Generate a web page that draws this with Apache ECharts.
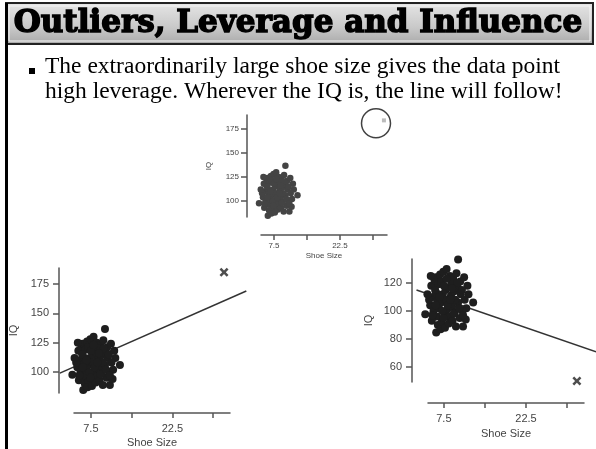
<!DOCTYPE html>
<html>
<head>
<meta charset="utf-8">
<script src="https://cdn.jsdelivr.net/npm/echarts@6/dist/echarts.min.js"></script>
<style>
  html, body { margin: 0; padding: 0; background: #fff; }
  #chart { width: 596px; height: 449px; }
</style>
</head>
<body>
<div id="chart"></div>
<script>
// shoe size / IQ cluster (same sample in all three panels)
const shoeSize = [4.1, 6.1, 11.0, 10.1, 12.85, 5.0, 5.5, 5.2, 5.8, 6.0, 6.5, 6.8, 7.0, 7.4, 8.0, 8.6, 9.2, 9.8,
  10.5, 11.2, 11.8, 12.0, 4.8, 5.6, 6.2, 6.6, 7.0, 7.3, 7.8, 8.3, 8.8, 9.4, 10.0, 10.6, 11.3, 11.6,
  5.3, 6.4, 7.1, 7.6, 8.1, 8.5, 9.0, 9.5, 10.1, 10.4, 10.9, 11.5, 6.9, 7.7, 8.4, 9.1, 9.7, 6.1,
  7.9, 8.9, 9.6, 6.3, 7.2, 8.2, 5.9, 9.3, 10.3, 7.5,
  4.5, 5.4, 6.7, 8.7, 9.9, 10.8, 7.4, 8.0, 6.0, 9.0, 11.0, 5.1]
const iq = [97.7, 84.7, 89.0, 136.7, 106, 104, 110, 118, 122, 124, 119, 126, 121, 128, 130, 125, 123, 127,
  121, 124, 118, 112, 108, 100, 96, 102, 106, 112, 115, 117, 111, 114, 117, 112, 108, 102,
  93, 90, 92, 98, 101, 96, 103, 99, 106, 95, 100, 94, 87, 88, 91, 93, 89, 113,
  108, 120, 108, 107, 100, 104, 115, 98, 102, 118,
  112, 97, 110, 108, 120, 115, 95, 123, 104, 116, 97, 125]

// the extra point and the fitted lines
const topOutlier = [32.5, 184]
const circledPoint = [30.7, 181]
const leftOutlier = [32, 185]
const rightOutlier = [31.8, 50]
const leftFit = [[1.8, 99], [36.1, 169]]
const rightFit = [[2.6, 115], [37.5, 70.8]]

// tick labels
const xTicks = [7.5, 15, 22.5, 30]
const xLabels = [7.5, 22.5]
const iqTicks = [100, 125, 150, 175]
const iqTicksRight = [60, 80, 100, 120]

const points = shoeSize.map((s, i) => [s, iq[i]])
const axisColor = '#555'
const textColor = '#444'
const crossPath = 'path://M2,0L5,3L8,0L10,2L7,5L10,8L8,10L5,7L2,10L0,8L3,5L0,2Z'

function xAxisOf(idx, min, max, offset, fs, margin, gap) {
  return {
    gridIndex: idx, type: 'value', min: min, max: max, offset: offset,
    name: 'Shoe Size', nameLocation: 'middle', nameGap: gap,
    nameTextStyle: { color: textColor, fontSize: fs, fontFamily: 'Liberation Sans' },
    axisLine: { onZero: false, lineStyle: { color: axisColor, width: 1.5 } },
    axisTick: { customValues: xTicks, length: 5, lineStyle: { color: axisColor, width: 1.5 } },
    axisLabel: { customValues: xLabels, color: textColor, fontSize: fs, margin: margin, fontFamily: 'Liberation Sans' },
    splitLine: { show: false }
  }
}

function yAxisOf(idx, min, max, offset, fs, margin, gap, ticks) {
  return {
    gridIndex: idx, type: 'value', min: min, max: max, offset: offset,
    name: 'IQ', nameLocation: 'middle', nameGap: gap,
    nameTextStyle: { color: textColor, fontSize: fs, fontFamily: 'Liberation Sans' },
    axisLine: { show: true, onZero: false, lineStyle: { color: axisColor, width: 1.5 } },
    axisTick: { show: true, customValues: ticks, length: 6, lineStyle: { color: axisColor, width: 1.5 } },
    axisLabel: { customValues: ticks, color: textColor, fontSize: fs, margin: margin, fontFamily: 'Liberation Sans' },
    splitLine: { show: false }
  }
}

// invisible axes with the same scale as a panel but a wider extent, so the fit line can run past the axis
function hiddenAxis(idx, min, max) {
  return { gridIndex: idx, type: 'value', min: min, max: max, show: false, splitLine: { show: false } }
}

const chart = echarts.init(document.getElementById('chart'))
chart.setOption({
  backgroundColor: '#fff',
  animation: false,
  graphic: [
    { type: 'rect', shape: { x: 6, y: 3, width: 587, height: 41 },
      style: {
        fill: new echarts.graphic.LinearGradient(0, 0, 0, 1, [
          { offset: 0, color: '#e6e6e6' }, { offset: 0.6, color: '#c8c8c8' }, { offset: 1, color: '#a8a8a8' }
        ]),
        stroke: '#222', lineWidth: 2
      } },
    { type: 'rect', shape: { x: 9, y: 6, width: 581, height: 35 },
      style: { fill: 'none', stroke: '#f4f4f4', lineWidth: 1 } },
    { type: 'rect', shape: { x: 5, y: 3, width: 3, height: 446 }, style: { fill: '#000' } },
    { type: 'text', x: 298, y: 24,
      style: { text: 'Outliers, Leverage and Influence', align: 'center', verticalAlign: 'middle',
        font: '900 31px "DejaVu Serif"', fill: '#000', stroke: '#000', lineWidth: 1.5 } },
    { type: 'rect', shape: { x: 29, y: 68, width: 6, height: 6 }, style: { fill: '#000' } },
    { type: 'text', x: 45, y: 67,
      style: { text: 'The extraordinarily large shoe size gives the data point', verticalAlign: 'middle',
        font: '23.5px "Liberation Serif"', fill: '#000' } },
    { type: 'text', x: 45, y: 92,
      style: { text: 'high leverage. Wherever the IQ is, the line will follow!', verticalAlign: 'middle',
        font: '23.5px "Liberation Serif"', fill: '#000' } }
  ],
  grid: [
    { left: 261, top: 115, width: 126, height: 102 },
    { left: 74, top: 268, width: 156, height: 125 },
    { left: 428, top: 259, width: 156, height: 123 },
    // overlays for the fit lines (same px per unit as panels 1 and 2)
    { left: 54, top: 268, width: 200, height: 125 },
    { left: 408, top: 259, width: 200, height: 123 }
  ],
  xAxis: [
    xAxisOf(0, 4.55, 33.2, 18, 8, 7, 17),
    xAxisOf(1, 4.4, 33.1, 20, 11, 10, 24),
    xAxisOf(2, 4.6, 33.1, 21, 11, 10, 25),
    hiddenAxis(3, 4.4 - 20 * 28.7 / 156, 4.4 + 180 * 28.7 / 156),
    hiddenAxis(4, 4.6 - 20 * 28.5 / 156, 4.6 + 180 * 28.5 / 156)
  ],
  yAxis: [
    yAxisOf(0, 83.3, 189.6, 14, 8, 8, 34, iqTicks),
    yAxisOf(1, 82.1, 188.6, 15, 11, 10, 40, iqTicks),
    yAxisOf(2, 49.3, 137.1, 16, 11, 10, 38, iqTicksRight),
    hiddenAxis(3, 82.1, 188.6),
    hiddenAxis(4, 49.3, 137.1)
  ],
  series: [
    { type: 'scatter', xAxisIndex: 0, yAxisIndex: 0, data: points, clip: false,
      symbolSize: 6.5, itemStyle: { color: '#444', opacity: 1 } },
    { type: 'scatter', xAxisIndex: 0, yAxisIndex: 0, data: [topOutlier], clip: false,
      symbol: 'rect', symbolSize: 4, itemStyle: { color: '#aaa' } },
    { type: 'scatter', xAxisIndex: 0, yAxisIndex: 0, data: [circledPoint], clip: false,
      symbol: 'circle', symbolSize: 29, itemStyle: { color: 'rgba(0,0,0,0)', borderColor: '#111', borderWidth: 1.5 } },

    { type: 'line', xAxisIndex: 3, yAxisIndex: 3, data: leftFit, showSymbol: false, z: 1,
      lineStyle: { color: '#333', width: 1.5 } },
    { type: 'scatter', xAxisIndex: 1, yAxisIndex: 1, data: points, clip: false, z: 3,
      symbolSize: 8, itemStyle: { color: '#1e1e1e', opacity: 1 } },
    { type: 'scatter', xAxisIndex: 1, yAxisIndex: 1, data: [leftOutlier], clip: false,
      symbol: crossPath, symbolSize: 9, itemStyle: { color: '#222' } },

    { type: 'line', xAxisIndex: 4, yAxisIndex: 4, data: rightFit, showSymbol: false, z: 1,
      lineStyle: { color: '#333', width: 1.5 } },
    { type: 'scatter', xAxisIndex: 2, yAxisIndex: 2, data: points, clip: false, z: 3,
      symbolSize: 8, itemStyle: { color: '#1e1e1e', opacity: 1 } },
    { type: 'scatter', xAxisIndex: 2, yAxisIndex: 2, data: [rightOutlier], clip: false,
      symbol: crossPath, symbolSize: 9, itemStyle: { color: '#222' } }
  ]
})
</script>
</body>
</html>
